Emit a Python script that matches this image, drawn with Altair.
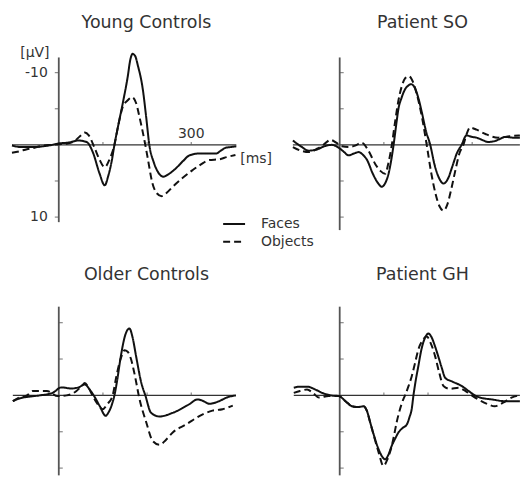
import altair as alt
import pandas as pd

# ---------------- data ----------------
CONDITIONS = ["Faces", "Objects"]
TIME_TICKS = [100, 200, 300]
AMP_TICKS = [-10, -5, 5, 10]
AMP_LABELS = [-10, 10]
TIME_LABELS = [300]
UNIT_AMP = "[µV]"
UNIT_TIME = "[ms]"
TITLES = ["Young Controls", "Patient SO", "Older Controls", "Patient GH"]

# Young Controls
YC_FACES_T = [-106, -85, -60, -35, -15, 0, 20, 45, 63, 77, 92, 104, 112, 120, 126, 135, 145, 156,
              162, 167, 173, 179, 190, 198, 205, 215, 225, 237, 250, 266, 282, 296, 318, 340,
              356, 367, 378, 390, 402]
YC_FACES_V = [0.1, 0.3, 0.3, 0.2, 0.0, -0.2, -0.3, -0.6, -0.4, 1.0, 3.9, 5.6, 4.3, 2.2, 0.0, -2.8,
              -5.8, -9.4, -11.8, -12.6, -12.3, -11.0, -7.8, -3.8, 0.0, 2.4, 3.8, 4.4, 4.0, 3.2,
              2.2, 1.45, 1.2, 1.2, 1.2, 0.8, 0.4, 0.3, 0.2]
YC_OBJ_T = [-106, -90, -72, -55, -36, -15, 0, 20, 35, 48, 59, 68, 81, 92, 104, 115, 126, 135, 145,
            155, 166, 175, 183, 194, 201, 212, 222, 233, 245, 258, 280, 303, 322, 341, 363, 380, 400]
YC_OBJ_V = [1.1, 0.9, 0.6, 0.4, 0.1, 0.0, -0.1, -0.2, -0.5, -1.2, -1.7, -1.3, 0.4, 2.0, 3.1, 2.0,
            0.0, -2.8, -5.3, -6.1, -6.6, -5.8, -3.8, -0.6, 1.7, 5.3, 6.7, 7.1, 6.6, 5.8, 4.6,
            3.5, 2.7, 2.1, 2.0, 1.7, 1.4]
YC_AXIS = [-12.1, 10.7]

# Patient SO
SO_FACES_T = [-106, -88, -70, -50, -35, -18, 0, 10, 20, 32, 43, 53, 62, 75, 88, 95, 103, 111, 117,
              122, 128, 133, 140, 148, 155, 162, 170, 178, 186, 195, 205, 215, 225, 235, 245, 255,
              265, 276, 287, 300, 310, 322, 336, 350, 362, 375, 392, 408]
SO_FACES_V = [-0.6, 0.2, 0.8, 0.6, 0.2, 0.0, 0.5, 1.0, 1.45, 1.2, 1.0, 1.4, 2.1, 4.0, 5.4, 5.8,
              5.3, 3.9, 2.0, 0.0, -2.8, -5.0, -6.5, -7.7, -8.2, -8.4, -7.9, -6.5, -4.5, -2.0,
              0.0, 2.8, 4.6, 5.35, 4.7, 3.0, 1.2, 0.0, -1.3, -1.1, -1.0, -0.7, -0.4, -0.5, -0.8,
              -1.1, -1.0, -1.0]
SO_OBJ_T = [-106, -88, -70, -50, -35, -21, -8, 5, 20, 35, 50, 65, 80, 92, 103, 110, 118, 125, 132,
            140, 148, 156, 163, 170, 178, 187, 197, 207, 218, 226, 235, 244, 252, 262, 271, 280,
            288, 295, 310, 330, 359, 385, 408]
SO_OBJ_V = [0.3, 0.8, 1.0, 0.5, -0.1, -0.7, -0.3, 0.2, 0.3, 0.1, -0.3, 0.8, 2.6, 3.6, 4.0, 2.6,
            0.0, -3.0, -5.8, -8.0, -9.2, -9.5, -9.1, -8.0, -6.2, -3.6, 0.0, 3.8, 7.0, 8.5, 9.1,
            8.2, 6.3, 3.5, 1.2, 0.0, -1.6, -2.4, -2.1, -1.5, -1.0, -1.2, -1.3]
SO_AXIS = [-12.1, 11.8]

# Older Controls
OC_FACES_T = [-104, -88, -70, -43, -14, 6, 29, 45, 59, 70, 82, 93, 106, 113, 120, 126, 132, 140,
              150, 160, 167, 175, 187, 196, 209, 228, 258, 296, 314, 328, 341, 363, 380, 401]
OC_FACES_V = [0.8, 0.4, 0.2, 0.0, -0.35, -1.1, -0.95, -1.1, -1.5, -0.8, 0.3, 1.5, 2.8, 2.3, 1.3,
              0.0, -2.0, -5.2, -8.2, -9.2, -8.0, -5.4, -1.7, 0.0, 2.4, 2.9, 2.4, 1.2, 0.55, 0.8,
              1.15, 0.8, 0.3, 0.0]
OC_OBJ_T = [-104, -90, -72, -59, -40, -27, -2, 18, 40, 52, 59, 66, 77, 88, 99, 110, 122, 130, 140,
            149, 156, 163, 171, 183, 198, 213, 228, 243, 258, 288, 326, 348, 371, 394]
OC_OBJ_V = [0.8, 0.3, 0.0, -0.6, -0.6, -0.6, 0.1, 0.0, -0.6, -1.3, -1.7, -1.2, 0.1, 1.2, 1.9, 1.2,
            0.0, -2.5, -5.0, -6.2, -6.0, -5.1, -3.1, 0.55, 3.7, 6.3, 6.8, 6.1, 5.1, 4.0, 2.6,
            2.1, 1.9, 1.4]
OC_AXIS = [-12.2, 11.0]

# Patient GH
GH_FACES_T = [-104, -90, -74, -55, -40, -20, -2, 15, 28, 42, 54, 62, 69, 78, 88, 96, 103, 110,
              118, 126, 133, 142, 152, 158, 163, 167, 172, 178, 185, 193, 201, 208, 215, 223, 231,
              239, 255, 276, 292, 306, 325, 344, 374, 408]
GH_FACES_V = [-1.05, -1.2, -1.2, -0.8, -0.35, 0.0, 0.1, 0.9, 1.5, 1.6, 1.5, 2.2, 3.7, 5.6, 7.4,
              8.4, 8.8, 8.2, 6.9, 5.9, 5.1, 4.5, 4.0, 3.0, 1.9, 0.0, -2.0, -4.0, -6.3, -7.9,
              -8.5, -8.0, -6.9, -5.4, -3.8, -2.4, -1.9, -1.3, -0.6, 0.0, 0.4, 0.55, 0.8, 0.8]
GH_OBJ_T = [-104, -90, -74, -60, -47, -25, -2, 15, 28, 42, 54, 62, 69, 78, 88, 99, 108, 118, 124,
            129, 136, 144, 148, 156, 163, 170, 178, 188, 197, 206, 216, 225, 235, 250, 269, 285,
            299, 315, 335, 351, 370, 389, 408]
GH_OBJ_V = [-0.35, -0.6, -0.8, -0.3, 0.3, 0.1, 0.1, 0.9, 1.5, 1.6, 1.5, 2.2, 3.7, 5.7, 7.8, 9.7,
            8.8, 6.9, 5.2, 3.7, 2.0, 0.55, 0.0, -1.3, -2.6, -4.3, -6.3, -7.6, -8.1, -7.2, -5.4,
            -3.2, -1.3, -0.9, -1.05, -0.6, 0.0, 0.6, 1.2, 1.5, 1.0, 0.3, 0.0]
GH_AXIS = [-12.2, 11.0]

# ---------------- layout / style ----------------
FONT = "DejaVu Sans"
INK = "#111111"
TEXT = "#333333"
PANEL_W = 262
ROW_H = [240, 237]
XDOM = [[-133.1, 457.9], [-178.2, 412.8]]      # column scale domains (ms)
YDOM = [[-19.93, 13.17], [-21.37, 11.10]]      # row scale domains (µV, negative up)
TITLE_DX = [16, 31]
TITLE_DY = [44.5, 57.5]
TICK_SIDE = [[-2, 2], [2, 2]]                   # xOffset of amplitude ticks


def make_panel(idx, ft, fv, ot, ov, amp_axis):
    row, col = divmod(idx, 2)
    first = idx == 0
    xs = alt.Scale(domain=XDOM[col], nice=False, zero=False)
    ys = alt.Scale(domain=YDOM[row], nice=False, zero=False, reverse=True)

    df = pd.DataFrame({
        "t": list(ft) + list(ot),
        "v": list(fv) + list(ov),
        "cond": [CONDITIONS[0]] * len(ft) + [CONDITIONS[1]] * len(ot),
    })
    base = alt.Chart(df)

    hax = base.transform_aggregate(t0="min(t)", t1="max(t)").mark_rule(
        color="#333333", strokeWidth=1.3
    ).encode(
        x=alt.X("t0:Q", scale=xs, axis=None), x2="t1:Q",
        y=alt.Y(datum=0, scale=ys, axis=None),
    )
    vax = alt.Chart(pd.DataFrame({"v0": [amp_axis[0]], "v1": [amp_axis[1]]})).mark_rule(
        color="#555555", strokeWidth=1.8
    ).encode(
        x=alt.X(datum=0, scale=xs, axis=None),
        y=alt.Y("v0:Q", scale=ys, axis=None), y2="v1:Q",
    )
    yt = alt.Chart(pd.DataFrame({"v": AMP_TICKS})).mark_tick(
        orient="horizontal", size=4, thickness=1.2, color="#555555",
        xOffset=TICK_SIDE[row][col],
    ).encode(
        x=alt.X(datum=0, scale=xs, axis=None),
        y=alt.Y("v:Q", scale=ys, axis=None),
    )
    xt = alt.Chart(pd.DataFrame({"t": TIME_TICKS})).mark_tick(
        orient="vertical", size=3, thickness=1.2, color="#555555", yOffset=-1.5,
    ).encode(
        x=alt.X("t:Q", scale=xs, axis=None),
        y=alt.Y(datum=0, scale=ys, axis=None),
    )

    if first:
        leg = alt.Legend(
            orient="none", legendX=223, legendY=216, title=None,
            symbolType="stroke", symbolSize=484, symbolStrokeWidth=2,
            symbolStrokeColor=INK, labelFont=FONT, labelFontSize=14,
            labelColor=TEXT, labelOffset=15, clipHeight=16, rowPadding=1.7,
            padding=0,
        )
    else:
        leg = None

    lines = base.mark_line(color=INK, strokeWidth=2, interpolate="monotone").encode(
        x=alt.X("t:Q", scale=xs, axis=None),
        y=alt.Y("v:Q", scale=ys, axis=None),
        strokeDash=alt.StrokeDash(
            "cond:N",
            scale=alt.Scale(domain=CONDITIONS, range=[[1, 0], [7, 4]]),
            legend=leg,
        ),
    )

    layers = [hax, vax, yt, xt, lines]

    if first:
        ylab = alt.Chart(pd.DataFrame({"v": AMP_LABELS})).transform_calculate(
            label="'' + datum.v"
        ).mark_text(
            align="right", baseline="middle", dx=-11, font=FONT, fontSize=14, color=TEXT
        ).encode(
            x=alt.X(datum=0, scale=xs, axis=None),
            y=alt.Y("v:Q", scale=ys, axis=None),
            text="label:N",
        )
        xlab = alt.Chart(pd.DataFrame({"t": TIME_LABELS})).transform_calculate(
            label="'' + datum.t"
        ).mark_text(
            align="center", baseline="alphabetic", dy=-7, font=FONT, fontSize=14, color=TEXT
        ).encode(
            x=alt.X("t:Q", scale=xs, axis=None),
            y=alt.Y(datum=0, scale=ys, axis=None),
            text="label:N",
        )
        ulab_amp = alt.Chart(pd.DataFrame({"v0": [amp_axis[0]], "u": [UNIT_AMP]})).mark_text(
            align="center", baseline="middle", dx=-24, dy=-4, font=FONT, fontSize=14, color=TEXT
        ).encode(
            x=alt.X(datum=0, scale=xs, axis=None),
            y=alt.Y("v0:Q", scale=ys, axis=None),
            text="u:N",
        )
        ulab_time = base.transform_aggregate(t1="max(t)").transform_calculate(
            u="'" + UNIT_TIME + "'"
        ).mark_text(
            align="left", baseline="alphabetic", dx=4, dy=18.5, font=FONT, fontSize=14, color=TEXT
        ).encode(
            x=alt.X("t1:Q", scale=xs, axis=None),
            y=alt.Y(datum=0, scale=ys, axis=None),
            text="u:N",
        )
        layers += [ylab, xlab, ulab_amp, ulab_time]

    return alt.layer(*layers).properties(
        width=PANEL_W,
        height=ROW_H[row],
        title=alt.TitleParams(
            TITLES[idx], font=FONT, fontSize=17.5, fontWeight="normal", color=TEXT,
            anchor="middle", frame="group", orient="top", offset=0,
            baseline="alphabetic", dx=TITLE_DX[col], dy=TITLE_DY[row],
        ),
    )


p1 = make_panel(0, YC_FACES_T, YC_FACES_V, YC_OBJ_T, YC_OBJ_V, YC_AXIS)
p2 = make_panel(1, SO_FACES_T, SO_FACES_V, SO_OBJ_T, SO_OBJ_V, SO_AXIS)
p3 = make_panel(2, OC_FACES_T, OC_FACES_V, OC_OBJ_T, OC_OBJ_V, OC_AXIS)
p4 = make_panel(3, GH_FACES_T, GH_FACES_V, GH_OBJ_T, GH_OBJ_V, GH_AXIS)

chart = alt.concat(p1, p2, p3, p4, columns=2, spacing=0, bounds="flush").properties(
    padding=0
).configure_view(strokeWidth=0)

chart.save("out.html", embed_options={"renderer": "svg", "actions": False})
